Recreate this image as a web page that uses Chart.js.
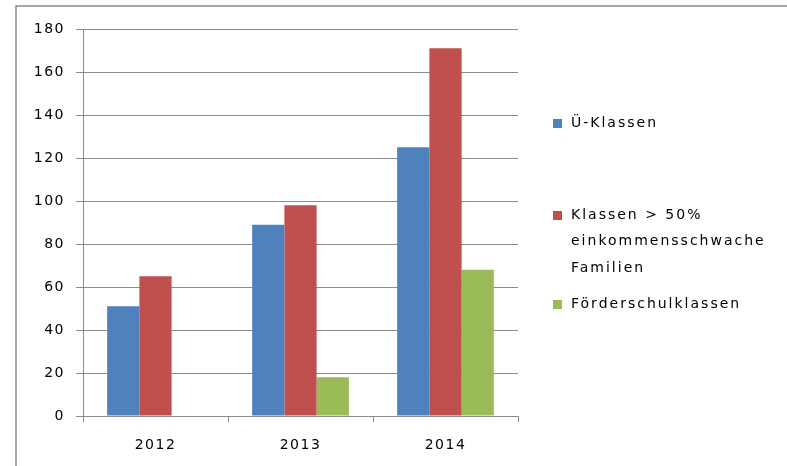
<!DOCTYPE html>
<html>
<head>
<meta charset="utf-8">
<script src="https://cdn.jsdelivr.net/npm/chart.js@4/dist/chart.umd.min.js"></script>
<style>
  html, body { margin: 0; padding: 0; background: #fff; overflow: hidden; }
  #wrap { width: 787px; height: 466px; position: relative; }
</style>
</head>
<body>
<div id="wrap"><canvas id="chartKlassen"></canvas></div>
<script>
const years = ['2012', '2013', '2014'];
const uKlassen = [51, 89, 125];
const einkommensschwach = [65, 98, 171];
const foerderschul = [null, 18, 68];
const seriesNames = [
    ['Ü-Klassen'],
    ['Klassen > 50%', 'einkommensschwache', 'Familien'],
    ['Förderschulklassen']
];
const yTicks = [0, 20, 40, 60, 80, 100, 120, 140, 160, 180];

const FONT = '"DejaVu Sans", Verdana, sans-serif';
const gridGrey = '#8c8c8c';

// wide Excel-like text spacing
const spacing = {
    id: 'spacing',
    beforeDraw(chart) {
        chart.ctx.letterSpacing = '1.5px';
    }
};

// Excel style frame + legend on the right
const frameAndLegend = {
    id: 'frameAndLegend',
    afterDraw(chart) {
        const ctx = chart.ctx;
        ctx.save();
        ctx.strokeStyle = '#8a8a8a';
        ctx.lineWidth = 1.5;
        ctx.beginPath();
        ctx.moveTo(16, 470);
        ctx.lineTo(16, 6);
        ctx.lineTo(790, 6);
        ctx.stroke();

        const rowsY = [[123], [215, 241.5, 268], [304]];
        ctx.font = '14px ' + FONT;
        ctx.letterSpacing = '2px';
        ctx.textBaseline = 'middle';
        ctx.textAlign = 'left';
        chart.data.datasets.forEach((ds, i) => {
            ctx.fillStyle = ds.backgroundColor;
            ctx.fillRect(553, rowsY[i][0] - 4, 9, 9);
            ctx.fillStyle = '#000';
            seriesNames[i].forEach((line, j) => {
                ctx.fillText(line, 571, rowsY[i][j]);
            });
        });
        ctx.restore();
    }
};

new Chart(document.querySelector('#chartKlassen').getContext('2d'), {
    type: 'bar',
    data: {
        labels: years,
        datasets: [
            { label: seriesNames[0].join(' '), data: uKlassen, backgroundColor: '#4F81BD' },
            { label: seriesNames[1].join(' '), data: einkommensschwach, backgroundColor: '#C0504D' },
            { label: seriesNames[2].join(' '), data: foerderschul, backgroundColor: '#9BBB59' }
        ]
    },
    options: {
        responsive: true,
        maintainAspectRatio: false,
        animation: false,
        layout: { padding: { left: 0, top: 29, right: 269, bottom: 0 } },
        datasets: { bar: { barPercentage: 1, categoryPercentage: 0.667 } },
        plugins: {
            legend: { display: false },
            tooltip: { enabled: false }
        },
        scales: {
            x: {
                grid: {
                    offset: true,
                    drawOnChartArea: false,
                    color: gridGrey,
                    tickLength: 6
                },
                border: { color: gridGrey, width: 1 },
                ticks: { color: '#000', font: { family: FONT, size: 14 }, padding: 15 },
                afterFit(scale) { scale.height = 50; }
            },
            y: {
                min: 0,
                max: 180,
                afterBuildTicks(scale) { scale.ticks = yTicks.map(v => ({ value: v })); },
                grid: { color: gridGrey, tickLength: 7 },
                border: { color: gridGrey, width: 1 },
                ticks: { color: '#000', font: { family: FONT, size: 14 }, padding: 11 },
                afterFit(scale) { scale.width = 83; }
            }
        }
    },
    plugins: [spacing, frameAndLegend]
});
</script>
</body>
</html>
